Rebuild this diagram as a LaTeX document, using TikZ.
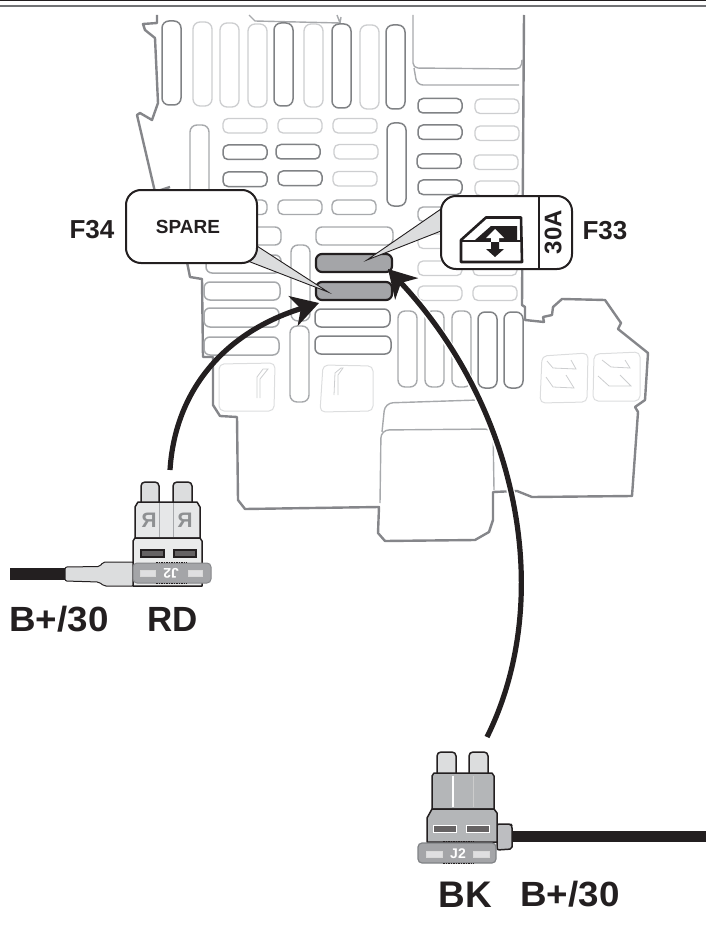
\documentclass[tikz,border=0pt]{standalone}
\usepackage{fontspec}
\setmainfont{Liberation Sans}
\usetikzlibrary{arrows.meta}
\definecolor{inkk}{HTML}{231F20}
\definecolor{wallc}{HTML}{85868A}
\definecolor{darkf}{HTML}{808285}
\definecolor{medf}{HTML}{A7A9AC}
\definecolor{lightf}{HTML}{CDCED0}
\definecolor{palef}{HTML}{DCDDDE}
\definecolor{fusefill}{HTML}{A4A5A8}
\tikzset{
  wall/.style={draw=wallc,line width=2.4pt,line join=round},
  thin wall/.style={draw=medf,line width=1.4pt,line join=round},
  fd/.style={draw=darkf,line width=1.5pt,fill=white},
  fm/.style={draw=medf,line width=1.4pt,fill=white},
  fl/.style={draw=lightf,line width=1.3pt,fill=white},
  live/.style={draw=inkk,line width=2.2pt,fill=fusefill},
  panel/.style={draw=palef,line width=1pt,line join=round},
  glyphl/.style={draw=lightf,line width=.8pt},
  callout/.style={draw=inkk,line width=2pt,fill=white,rounded corners=15pt},
  tail/.style={draw=inkk,line width=.9pt,fill=palef,line join=miter},
  lab/.style={font=\bfseries\fontsize{35}{35}\selectfont,text=inkk,anchor=base,inner sep=0pt,xscale=1.05},
  flab/.style={font=\bfseries\fontsize{26}{26}\selectfont,text=inkk,anchor=base,inner sep=0pt},
  arrowline/.style={draw=inkk,line width=5.2pt,-{Stealth[length=27pt,width=31pt,inset=8pt]}},
  clipline/.style={draw=inkk,line width=1.5pt,line join=round},
  fusecode/.style={font=\bfseries\fontsize{14}{14}\selectfont,text=white,inner sep=0pt},
  lamp/.style={draw=white!85!black,line width=1pt,fill=white!65!fusefill}
}
\newcommand{\vf}[4]{\path[#1,rounded corners=7pt] (#2,#3) rectangle ++(19,#4);}
\newcommand{\hf}[3]{\path[#1,rounded corners=5pt] (#2,#3) rectangle ++(44,14.5);}
\begin{document}
\begin{tikzpicture}[x=1pt,y=-1pt]
\useasboundingbox (0,0) rectangle (706,944);
% top rules
\fill[inkk] (0,0) rectangle (706,1.4);
\fill[wallc!85!black] (0,4.6) rectangle (706,6.6);
% housing outline
\path[wall] (157,15) -- (157,23) -- (143,24) -- (145,30) -- (155,38) -- (158,103) -- (152,120) -- (140,113) -- (137,115) -- (155,192) -- (170,187);
\path[wall] (187,262) -- (190,277) -- (202,279) -- (203,357) -- (213,357) -- (213,405) -- (220,416) -- (237,417) -- (238,500) -- (245,509) -- (379,507) -- (378,533) -- (385,541) -- (475,540) -- (489,532) -- (493,520) -- (493,492) -- (517,491) -- (532,497) -- (632,496) -- (638,412) -- (635,407) -- (645,400) -- (648,353) -- (618,329) -- (621,323) -- (605,300) -- (562,299) -- (553,307) -- (552,315) -- (543,317) -- (544,322) -- (525,320) -- (525,307) -- (522,305) -- (524,15);
\path[thin wall] (249,15) -- (255,21) -- (340,23) (337,15) -- (340,23) -- (341,17);
\path[thin wall,rounded corners=5pt] (413,15) -- (413,68) -- (521,69) -- (522,60);
\path[thin wall,rounded corners=6pt] (414,68) -- (417,85) -- (519,85);
% lower bump
\path[thin wall,rounded corners=8pt] (380,503) -- (381,430) -- (493,429) -- (494,490);
\path[thin wall,rounded corners=8pt] (382,432) -- (385,403) -- (478,400);
% top vertical fuses
\vf{fd}{162}{21}{84}
\vf{fl}{193}{22}{84}
\vf{fl}{220}{23}{84}
\vf{fl}{248}{24}{83}
\vf{fd}{274}{23}{83}
\vf{fl}{304}{24}{83}
\vf{fd}{332}{24}{84}
\vf{fl}{360}{25}{84}
\vf{fd}{386}{25}{84}
\vf{fm}{190}{125}{80}
\vf{fd}{387}{123}{83}
% horizontal 3x4
\hf{fl}{223}{118.5}\hf{fl}{278}{118.5}\hf{fl}{333}{118.5}
\hf{fd}{223}{145}\hf{fd}{276}{144.5}\hf{fl}{334}{144.5}
\hf{fd}{223}{172}\hf{fd}{278}{171}\hf{fl}{333}{171.5}
\hf{fm}{223}{200}\hf{fm}{278}{200}\hf{fm}{332}{200}
% right 2-col
\hf{fd}{418}{98.5}\hf{fl}{475}{99}
\hf{fd}{418}{125}\hf{fl}{475}{126}
\hf{fd}{417}{154}\hf{fl}{474}{155}
\hf{fd}{418}{180}\hf{fl}{475}{181}
\hf{fm}{418}{207}\hf{fl}{475}{207}
\hf{fl}{418}{234}\hf{fl}{472}{234}
\hf{fl}{418}{261}\hf{fl}{473}{261}
\hf{fl}{418}{286}\hf{fl}{473}{286}
% left long fuses
\path[fm,rounded corners=6pt] (205,227) rectangle (281,245);
\path[fd,draw=medf,rounded corners=6pt] (206,255) rectangle (281,273);
\path[fd,draw=medf,rounded corners=6pt] (204,282) rectangle (280,300);
\path[fd,draw=medf,rounded corners=6pt] (204,308) rectangle (279,327);
\path[fd,draw=medf,rounded corners=6pt] (204,337) rectangle (279,355);
% centre
\path[fm,rounded corners=6pt] (316,227) rectangle (393,245);
\path[live,rounded corners=6pt] (316,254) rectangle (392,272);
\path[live,rounded corners=6pt] (316,282) rectangle (392,300);
\path[fd,rounded corners=6pt] (315,309) rectangle (390,327);
\path[fd,rounded corners=6pt] (315,336) rectangle (391,354);
% mid verticals
\vf{fm}{291}{245}{76}
\vf{fm}{290}{326}{76}
\vf{fm}{398}{311}{76}
\vf{fm}{425}{311}{76}
\vf{fm}{452}{311}{76}
\vf{fd}{478}{312}{76}
\vf{fd}{504}{312}{76}
% panels
\path[panel,rounded corners=5pt] (219,364) -- (275,363) -- (274,411) -- (219,411) -- cycle;
\path[panel,rounded corners=5pt] (323,365) -- (373,366) -- (373,411) -- (320,412) -- cycle;
\path[panel,rounded corners=5pt] (542,356) -- (588,353) -- (587,402) -- (540,403) -- cycle;
\path[panel,rounded corners=5pt] (594,354) -- (640,352) -- (640,401) -- (593,401) -- cycle;
\path[glyphl] (257,398) -- (257,377) -- (263,369) -- (268,369) -- (260,379) -- (260,398);
\path[glyphl] (334,395) -- (335,373) -- (341,368) -- (343,368) -- (338,375) -- (338,395);
\path[glyphl] (547,361) -- (553,368) -- (576,369) -- (571,360);
\path[glyphl] (546,377) -- (553,387) -- (574,388) -- (566,375);
\path[glyphl] (602,360) -- (611,367) -- (630,368) -- (625,360);
\path[glyphl] (598,376) -- (609,386) -- (631,386) -- (620,375);
% callout F34
\path[tail] (250,241.5) -- (328,292) -- (240,258) -- cycle;
\path[callout] (126,190) rectangle (257,263);
\node[flab] (f34) at (92,238) {F34};
\node[font=\bfseries\fontsize{19}{19}\selectfont,text=inkk,inner sep=0pt] (spare) at (188,226.5) {SPARE};
% callout F33
\path[tail] (441,209) -- (367,260) -- (441,231) -- cycle;
\path[callout] (441,196) rectangle (572,269);
\draw[draw=inkk,line width=1.5pt] (539,196) -- (539,269);
\node[flab] (f33) at (605,239) {F33};
\node[font=\bfseries\fontsize{24}{24}\selectfont,text=inkk,inner sep=0pt,rotate=90] (amps) at (553,232) {30A};
% window icon
\fill[inkk] (475,240) -- (491,226) -- (517,226) -- (517,240) -- cycle;
\draw[inkk,line width=2.6pt,line join=round] (461,262) -- (461,240) -- (486,217.5) -- (521,217.5) -- (522,262) -- cycle;
\draw[inkk,line width=2pt] (461,241) -- (522,241);
\fill[white] (495,229) -- (504,238) -- (499,238) -- (499,245) -- (491,245) -- (491,238) -- (486,238) -- cycle;
\fill[inkk] (495,257) -- (504,249) -- (499,249) -- (499,242) -- (491,242) -- (491,249) -- (486,249) -- cycle;
% arrows
\coordinate (rdstart) at (170,470);
\coordinate (rdtip) at (319,303);
\coordinate (bkstart) at (487,737);
\coordinate (bktip) at (388,269);
\draw[white,line width=8pt,shorten >=14pt] (bkstart) .. controls (555,600) and (520,410) .. (bktip);
\path[arrowline] (rdstart) .. controls (175,390) and (225,332) .. (rdtip);
\path[arrowline] (bkstart) .. controls (555,600) and (520,410) .. (bktip);
% --- RD adapter
\fill[inkk] (10,568) rectangle (66,580);
\path[clipline,draw=inkk,line width=1pt,fill=palef,rounded corners=2pt] (65,567) -- (100,566.5) -- (103,562) -- (134,562) -- (134,586) -- (104,586) -- (99,582) -- (65,581) -- cycle;
\path[clipline,fill=palef,rounded corners=4pt] (141,502) -- (141,482) -- (159,482) -- (159,502);
\path[clipline,fill=palef,rounded corners=4pt] (173,502) -- (173,482) -- (192,482) -- (192,502);
\path[clipline,fill=palef!70!white] (135,507) -- (138,502) -- (197,502) -- (200,507) -- (200,538) -- (135,538) -- cycle;
\draw[medf,line width=.8pt] (159,503) -- (159,537) (173,503) -- (173,537);
\node[font=\bfseries\fontsize{21}{21}\selectfont,text=medf!85!black,xscale=-1,inner sep=0pt] (rr1) at (149,520) {R};
\node[font=\bfseries\fontsize{21}{21}\selectfont,text=medf!85!black,xscale=-1,inner sep=0pt] (rr2) at (185,520) {R};
\path[clipline,fill=palef!60!white] (133,541) -- (135,538) -- (200,538) -- (202,541) -- (202,586) -- (133,586) -- cycle;
\path[draw=inkk,line width=1.2pt,fill=inkk!70!white] (141,550) rectangle (164,557) (174,550) rectangle (196,557);
\path[draw=medf!80!black,line width=1pt,fill=fusefill,rounded corners=4pt] (133,563) rectangle (211,583);
\draw[inkk,line width=1pt,dash pattern=on 1.5pt off 1pt] (156,562) -- (187,562) (156,583) -- (187,583);
\path[lamp] (140,570) rectangle (155,576) (188,570) rectangle (202,576);
\node[fusecode,rotate=180] (rdcode) at (171,573.5) {J2};
\node[lab] (rdw) at (59,631) {B+/30};
\node[lab,xscale=.95] (rdc) at (173,631) {RD};
% --- BK adapter
\fill[inkk] (510,831) rectangle (706,842);
\path[clipline,fill=medf!75!white,rounded corners=2pt] (497,824) -- (511,824) -- (512,826) -- (512,849) -- (497,850) -- cycle;
\path[clipline,fill=palef,rounded corners=4pt] (437,773) -- (437,752) -- (456,752) -- (456,773);
\path[clipline,fill=palef,rounded corners=4pt] (469,773) -- (469,752) -- (488,752) -- (488,773);
\path[clipline,fill=medf!85!white] (432,809) -- (432,776) -- (434,773) -- (492,773) -- (494,776) -- (494,809) -- cycle;
\draw[white,line width=1.3pt] (453,776) -- (453,807);
\draw[white!80!black,line width=.9pt] (473,776) -- (473,807);
\path[clipline,fill=medf!85!white] (427,842) -- (427,818) -- (432,809) -- (494,809) -- (497,813) -- (497,842) -- cycle;
\path[draw=white,line width=1pt,fill=inkk!70!white] (433,825) rectangle (456,832) (466,825) rectangle (489,832);
\path[draw=darkf,line width=1.2pt,fill=fusefill,rounded corners=4pt] (418,843) rectangle (496,863);
\draw[inkk,line width=.9pt,dash pattern=on 1.5pt off 1pt] (443,863) -- (474,863) (443,841.5) -- (474,841.5);
\path[lamp] (426,851) rectangle (442,857) (473,851) rectangle (489,857);
\node[fusecode] (bkcode) at (458,854) {J2};
\node[lab,xscale=.95,font=\bfseries\fontsize{37}{37}\selectfont] (bkc) at (465,907) {BK};
\node[lab] (bkw) at (570,906) {B+/30};
\end{tikzpicture}
\end{document}
